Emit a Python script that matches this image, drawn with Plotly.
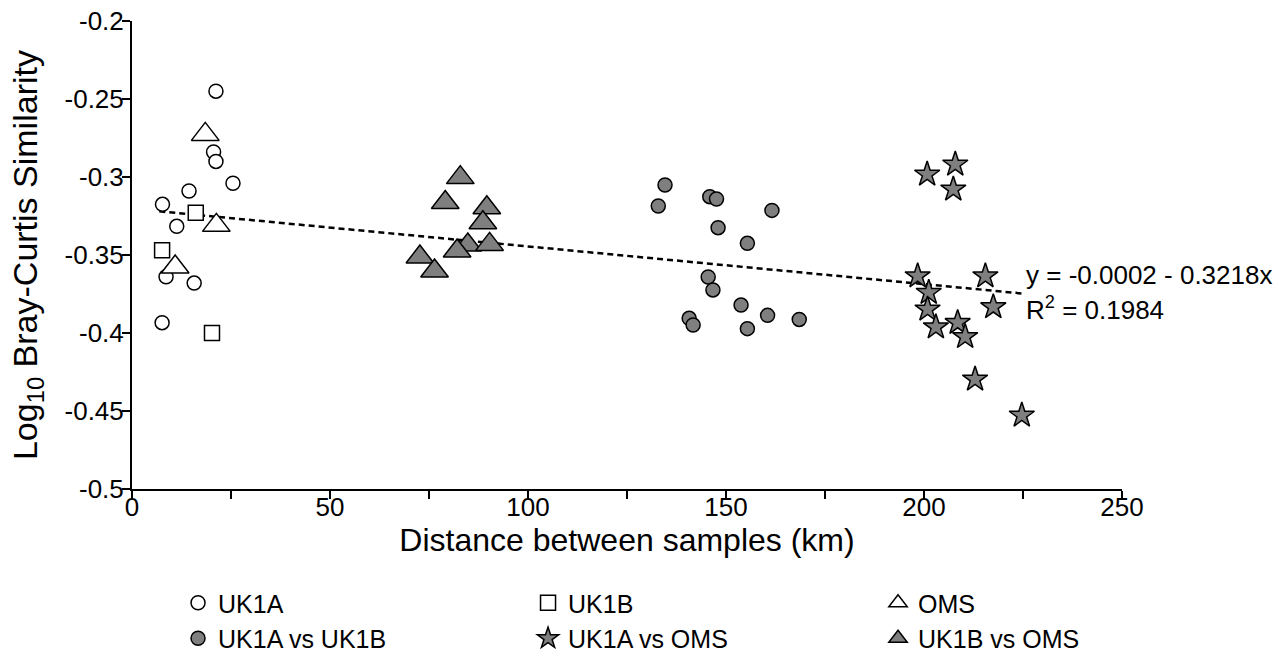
import plotly.graph_objects as go

# ---- data ----
uk1a_x = [21.2, 20.6, 21.2, 25.5, 14.4, 7.7, 11.3, 8.6, 15.7, 7.6]
uk1a_y = [-0.245, -0.284, -0.290, -0.304, -0.309, -0.3175, -0.3316, -0.364, -0.368, -0.3934]

uk1b_x = [16.1, 7.6, 20.2]
uk1b_y = [-0.3229, -0.347, -0.400]

oms_x = [18.5, 21.3, 10.9]
oms_y = [-0.2727, -0.331, -0.3577]

uk1a_uk1b_x = [134.6, 132.9, 145.9, 147.6, 161.6, 148.0, 155.4, 145.5, 146.7, 153.8,
               140.7, 141.7, 160.5, 168.5, 155.4]
uk1a_uk1b_y = [-0.3051, -0.3186, -0.3126, -0.3141, -0.3214, -0.3325, -0.3425, -0.3641,
               -0.3724, -0.3821, -0.3906, -0.3949, -0.3887, -0.3913, -0.3972]

uk1a_oms_x = [200.8, 207.9, 207.4, 198.4, 215.5, 201.2, 200.9, 217.5, 203.0, 208.5,
              210.4, 212.9, 224.7]
uk1a_oms_y = [-0.2983, -0.2919, -0.3079, -0.3635, -0.3635, -0.3741, -0.3848, -0.3833,
              -0.3962, -0.3934, -0.4024, -0.4297, -0.4528]

uk1b_oms_x = [82.9, 79.1, 89.6, 88.6, 84.8, 82.1, 90.3, 72.7, 76.4]
uk1b_oms_y = [-0.3004, -0.3164, -0.3197, -0.3293, -0.3436, -0.3474, -0.3432, -0.3513, -0.3603]

fit_x = [6.9, 224.9]
fit_y = [-0.322, -0.3747]

eq_text = "y = -0.0002 - 0.3218x"
r2_text = "R<sup>2</sup> = 0.1984"
x_title = "Distance between samples (km)"
y_title = "Log<sub>10</sub> Bray-Curtis Similarity"

x_tickvals = [0, 25, 50, 75, 100, 125, 150, 175, 200, 225, 250]
x_ticktext = ["0", "", "50", "", "100", "", "150", "", "200", "", "250"]
y_tickvals = [-0.5, -0.45, -0.4, -0.35, -0.3, -0.25, -0.2]
y_ticktext = ["-0.5", "-0.45", "-0.4", "-0.35", "-0.3", "-0.25", "-0.2"]

# ---- styling ----
FONT = "Liberation Sans, Arial, sans-serif"
GRAY = "#7f7f7f"
LINE = dict(color="black", width=1.5)

fig = go.Figure()

fig.add_trace(go.Scatter(
    x=fit_x, y=fit_y, mode="lines",
    line=dict(color="black", width=2.5, dash="6px,4px"),
    showlegend=False, hoverinfo="skip"))

series = [
    ("UK1A", uk1a_x, uk1a_y, "circle", "white", 14, "g1", 305),
    ("UK1B", uk1b_x, uk1b_y, "square", "white", 15, "g2", 305),
    ("OMS", oms_x, oms_y, "triangle-up", "white", 24, "g3", 220),
    ("UK1A vs UK1B", uk1a_uk1b_x, uk1a_uk1b_y, "circle", GRAY, 14, "g1", 305),
    ("UK1A vs OMS", uk1a_oms_x, uk1a_oms_y, "star", GRAY, 19, "g2", 305),
    ("UK1B vs OMS", uk1b_oms_x, uk1b_oms_y, "triangle-up", GRAY, 24, "g3", 220),
]
for name, xs, ys, sym, fill, size, grp, lw in series:
    fig.add_trace(go.Scatter(
        x=xs, y=ys, mode="markers", name=name,
        marker=dict(symbol=sym, color=fill, size=size, line=LINE),
        legendgroup=grp, legendwidth=lw))

fig.add_annotation(x=225.3, y=-0.3628, xref="x", yref="y", text=eq_text,
                   showarrow=False, xanchor="left", yanchor="middle",
                   font=dict(family=FONT, size=26, color="black"))
fig.add_annotation(x=225.3, y=-0.384, xref="x", yref="y", text=r2_text,
                   showarrow=False, xanchor="left", yanchor="middle",
                   font=dict(family=FONT, size=26, color="black"))
# y-axis title
fig.add_annotation(x=-0.106, y=0.5, xref="paper", yref="paper", text=y_title,
                   textangle=-90, showarrow=False, xanchor="center", yanchor="middle",
                   font=dict(family=FONT, size=34, color="black"))

axis_common = dict(showline=True, linecolor="black", linewidth=2, ticks="outside",
                   ticklen=8, tickwidth=2, tickcolor="black", showgrid=False,
                   zeroline=False, tickfont=dict(family=FONT, size=26, color="black"))

fig.update_xaxes(range=[0, 250], tickmode="array", tickvals=x_tickvals, ticktext=x_ticktext,
                 ticklabelstandoff=-14,
                 title=dict(text=x_title,
                            font=dict(family=FONT, size=32, color="black"), standoff=4),
                 **axis_common)
fig.update_yaxes(range=[-0.5, -0.2], tickmode="array", tickvals=y_tickvals, ticktext=y_ticktext,
                 ticklabelstandoff=-7, **axis_common)

fig.update_layout(
    width=1287, height=657,
    margin=dict(l=132, r=165, t=21, b=168, autoexpand=False),
    plot_bgcolor="white", paper_bgcolor="white",
    font=dict(family=FONT, color="black"),
    legend=dict(orientation="h", traceorder="grouped", x=0.0465, xanchor="left",
                y=-0.1945, yanchor="top", font=dict(family=FONT, size=25, color="black"),
                tracegroupgap=0, itemclick=False, bgcolor="rgba(0,0,0,0)"),
)

fig.write_html("out.html", config={"displayModeBar": False},
               post_script="document.body.style.margin='0';")
